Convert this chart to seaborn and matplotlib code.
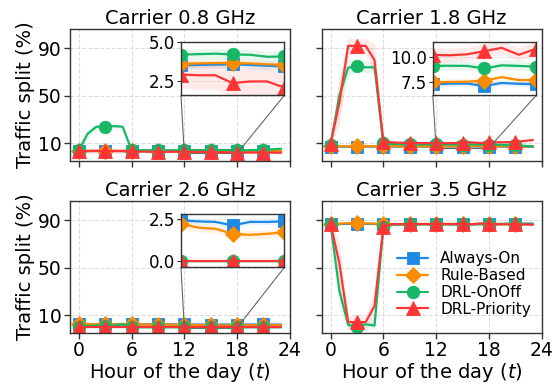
import numpy as np
import pandas as pd
import matplotlib
matplotlib.use("Agg")
import matplotlib.pyplot as plt
import seaborn as sns
from mpl_toolkits.axes_grid1.inset_locator import mark_inset

# ---------------- data ----------------
hours = list(range(24))
schemes = ["Always-On", "Rule-Based", "DRL-OnOff", "DRL-Priority"]
carriers = ["Carrier 0.8 GHz", "Carrier 1.8 GHz", "Carrier 2.6 GHz", "Carrier 3.5 GHz"]

# Carrier 0.8 GHz
ao_08 = [3.5,3.5,3.6,3.6,3.5,3.5,3.5,3.5,3.5,3.5,3.5,3.5,3.50,3.52,3.54,3.56,3.52,3.47,3.42,3.45,3.48,3.5,3.45,3.4]
rb_08 = [3.8,3.7,3.8,3.8,3.7,3.7,3.7,3.7,3.6,3.6,3.6,3.6,3.58,3.62,3.64,3.65,3.62,3.56,3.53,3.55,3.58,3.6,3.55,3.5]
on_08 = [4.0,18.0,24.0,24.0,24.5,24.0,4.5,4.3,4.2,4.2,4.2,4.2,4.19,4.22,4.25,4.20,4.18,4.05,4.07,4.2,4.4,4.6,5.0,5.5]
pr_08 = [3.4,3.5,3.6,3.6,3.6,3.5,3.3,3.1,3.0,2.9,2.9,2.9,2.90,2.85,2.85,2.34,2.45,2.45,2.05,2.2,2.3,2.3,2.2,2.1]
# Carrier 1.8 GHz
ao_18 = [7.3,7.3,7.2,7.2,7.3,7.3,7.3,7.3,7.3,7.3,7.3,7.3,7.28,7.36,7.36,7.12,7.42,7.33,7.30,7.3,7.2,7.1,7.0,7.0]
rb_18 = [7.6,7.6,7.5,7.6,7.6,7.6,7.6,7.6,7.5,7.5,7.5,7.5,7.50,7.52,7.55,7.66,7.99,7.70,7.70,7.6,7.5,7.4,7.3,7.3]
on_18 = [9.0,50.0,73.6,75.0,74.0,74.0,10.0,9.5,9.3,9.2,9.1,9.1,9.10,9.12,9.10,8.85,9.16,9.10,9.03,8.9,8.6,8.3,8.0,7.5]
pr_18 = [9.5,44.0,92.0,92.0,92.0,80.0,11.5,10.8,10.5,10.3,10.2,10.2,10.19,10.15,10.25,10.56,10.88,10.20,10.80,10.9,11.0,11.2,12.0,12.8]
# Carrier 2.6 GHz
ao_26 = [2.6,2.6,2.6,2.6,2.6,2.5,2.5,2.5,2.5,2.5,2.5,2.45,2.44,2.37,2.34,2.13,2.34,2.34,2.37,2.4,2.4,2.4,2.4,2.4]
rb_26 = [3.0,2.8,2.6,2.5,2.5,2.4,2.4,2.3,2.3,2.3,2.3,2.25,2.24,2.00,1.93,1.63,1.57,1.63,1.73,1.75,1.8,1.8,1.8,1.8]
on_26 = [0.0,1.0,1.5,1.5,1.5,2.5,0.5,0.0,0.0,0.0,0.0,0.0,0.0,0.0,0.0,0.0,0.0,0.0,0.0,0.0,0.0,0.0,0.0,0.0]
pr_26 = [0.0,0.0,0.0,0.0,0.0,0.0,0.0,0.0,0.0,0.0,0.0,0.0,0.0,0.0,0.0,0.0,0.0,0.0,0.0,0.0,0.0,0.0,0.0,0.0]
# Carrier 3.5 GHz
ao_35 = [86.8,86.9,87.0,87.1,87.0,86.9,86.9,86.9,86.9,86.9,86.9,86.9,86.8,86.8,86.8,87.2,86.7,86.9,86.9,86.9,87.0,87.1,87.2,87.2]
rb_35 = [86.9,87.3,87.6,87.8,87.5,87.3,87.0,86.9,86.9,86.9,86.9,86.9,86.7,86.9,86.9,87.1,86.8,87.1,87.0,86.9,86.9,86.9,86.9,86.9]
on_35 = [87.0,31.0,2.0,0.3,2.5,1.5,84.0,86.3,86.5,86.6,86.7,86.7,86.7,86.7,86.7,86.9,86.7,86.8,86.9,86.9,87.0,87.1,87.0,87.0]
pr_35 = [87.1,54.0,4.4,4.4,4.4,18.0,84.5,86.8,86.8,86.9,86.9,86.9,86.9,87.0,86.9,87.1,86.7,87.3,87.1,86.7,86.7,86.5,86.6,86.3]

# half-widths of the shaded confidence bands
sd_ao_08 = [0.3,0.3,0.3,0.3,0.3,0.3,0.3,0.3,0.3,0.3,0.3,0.3,0.25,0.25,0.25,0.25,0.25,0.25,0.25,0.25,0.25,0.25,0.25,0.25]
sd_rb_08 = [0.3,0.3,0.3,0.3,0.3,0.3,0.3,0.3,0.3,0.3,0.3,0.3,0.25,0.25,0.25,0.25,0.25,0.25,0.25,0.25,0.25,0.25,0.25,0.25]
sd_on_08 = [0.5,4.0,2.0,1.5,1.5,1.5,0.8,0.4,0.4,0.4,0.4,0.4,0.35,0.35,0.35,0.35,0.35,0.35,0.35,0.35,0.4,0.4,0.5,0.5]
sd_pr_08 = [2.0,2.2,2.4,2.4,2.4,2.2,1.5,1.0,1.0,0.9,0.9,0.9,0.9,0.9,0.9,0.9,0.9,0.9,0.9,0.9,0.9,0.9,0.9,0.9]
sd_ao_18 = [0.3,0.3,0.3,0.3,0.3,0.3,0.3,0.3,0.3,0.3,0.3,0.3,0.25,0.25,0.25,0.25,0.25,0.25,0.25,0.25,0.25,0.25,0.25,0.25]
sd_rb_18 = [0.3,0.3,0.3,0.3,0.3,0.3,0.3,0.3,0.3,0.3,0.3,0.3,0.3,0.3,0.3,0.3,0.3,0.3,0.3,0.3,0.3,0.3,0.3,0.3]
sd_on_18 = [1.0,18.0,8.0,4.0,5.0,5.0,1.5,0.5,0.5,0.5,0.5,0.5,0.45,0.45,0.45,0.45,0.45,0.45,0.45,0.45,0.5,0.5,0.5,0.5]
sd_pr_18 = [1.0,20.0,8.0,6.0,6.0,14.0,2.0,0.7,0.7,0.7,0.7,0.7,0.65,0.65,0.65,0.65,0.65,0.65,0.65,0.65,0.7,0.7,0.7,0.7]
sd_ao_26 = [0.2,0.2,0.2,0.2,0.2,0.2,0.2,0.2,0.2,0.2,0.2,0.2,0.15,0.15,0.15,0.15,0.15,0.15,0.15,0.15,0.15,0.15,0.15,0.15]
sd_rb_26 = [0.3,0.3,0.3,0.3,0.3,0.3,0.3,0.3,0.3,0.3,0.3,0.3,0.25,0.25,0.25,0.25,0.25,0.25,0.25,0.25,0.25,0.25,0.25,0.25]
sd_on_26 = [0.0,1.5,2.0,2.0,2.0,3.0,1.0,0.0,0.0,0.0,0.0,0.0,0.0,0.0,0.0,0.0,0.0,0.0,0.0,0.0,0.0,0.0,0.0,0.0]
sd_pr_26 = [0.0,0.0,0.0,0.0,0.0,0.0,0.0,0.0,0.0,0.0,0.0,0.0,0.0,0.0,0.0,0.0,0.0,0.0,0.0,0.0,0.0,0.0,0.0,0.0]
sd_ao_35 = [0.5,0.5,0.5,0.5,0.5,0.5,0.5,0.5,0.5,0.5,0.5,0.5,0.5,0.5,0.5,0.5,0.5,0.5,0.5,0.5,0.5,0.5,0.5,0.5]
sd_rb_35 = [0.5,0.5,0.5,0.5,0.5,0.5,0.5,0.5,0.5,0.5,0.5,0.5,0.5,0.5,0.5,0.5,0.5,0.5,0.5,0.5,0.5,0.5,0.5,0.5]
sd_on_35 = [1.0,12.0,3.0,2.0,3.0,3.0,3.0,1.0,1.0,1.0,1.0,1.0,1.0,1.0,1.0,1.0,1.0,1.0,1.0,1.0,1.0,1.0,1.0,1.0]
sd_pr_35 = [1.0,18.0,5.0,5.0,5.0,14.0,3.0,1.0,1.0,1.0,1.0,1.0,1.0,1.0,1.0,1.0,1.0,1.0,1.0,1.0,1.0,1.0,1.0,1.0]

means = [[ao_08, rb_08, on_08, pr_08], [ao_18, rb_18, on_18, pr_18],
         [ao_26, rb_26, on_26, pr_26], [ao_35, rb_35, on_35, pr_35]]
spreads = [[sd_ao_08, sd_rb_08, sd_on_08, sd_pr_08], [sd_ao_18, sd_rb_18, sd_on_18, sd_pr_18],
           [sd_ao_26, sd_rb_26, sd_on_26, sd_pr_26], [sd_ao_35, sd_rb_35, sd_on_35, sd_pr_35]]

inset_ylims = [(1.55, 5.0), (6.2, 11.45), (-0.37, 2.8), None]
inset_yticks = [[2.5, 5.0], [7.5, 10.0], [0.0, 2.5], None]
ytick_vals = [10, 50, 90]
xtick_vals = [0, 6, 12, 18, 24]

# ---------------- style ----------------
colors = {"Always-On": "#1E88E5", "Rule-Based": "#FB8C00",
          "DRL-OnOff": "#16B865", "DRL-Priority": "#FF3535"}
markers = {"Always-On": "s", "Rule-Based": "D", "DRL-OnOff": "o", "DRL-Priority": "^"}
msize = {"Always-On": 8.5, "Rule-Based": 8.5, "DRL-OnOff": 9, "DRL-Priority": 9.5}

sns.set_style("ticks")
plt.rcParams["font.family"] = ["DejaVu Sans"]
plt.rcParams["axes.edgecolor"] = "#333333"
plt.rcParams["text.color"] = "black"
plt.rcParams["axes.labelcolor"] = "black"
plt.rcParams["xtick.color"] = "#333333"
plt.rcParams["ytick.color"] = "#333333"
plt.rcParams["xtick.labelcolor"] = "black"
plt.rcParams["ytick.labelcolor"] = "black"

fig, axes = plt.subplots(2, 2, figsize=(5.55, 3.9), dpi=100, sharex=True, sharey=True)
fig.subplots_adjust(left=0.126, right=0.976, top=0.925, bottom=0.147, wspace=0.145, hspace=0.31)


def draw(ax, m_list, s_list):
    for name, m, s in zip(schemes, m_list, s_list):
        df = pd.DataFrame({"hour": hours, "val": m})
        lo = np.array(m) - np.array(s)
        hi = np.array(m) + np.array(s)
        ax.fill_between(hours, lo, hi, color=colors[name], alpha=0.1, lw=0)
        sns.lineplot(data=df, x="hour", y="val", ax=ax, color=colors[name],
                     marker=markers[name], markersize=msize[name], markevery=3,
                     markeredgewidth=0.6, markeredgecolor=colors[name],
                     linewidth=1.6, errorbar=None, label=name, legend=False)


for i, ax in enumerate(axes.flat):
    draw(ax, means[i], spreads[i])
    ax.set_title(carriers[i], fontsize=14, pad=4)
    ax.set_xlim(-1, 24)
    ax.set_ylim(-4.5, 106)
    ax.set_xticks(xtick_vals)
    ax.set_yticks(ytick_vals)
    ax.tick_params(labelsize=13.5, length=4, width=1, pad=2)
    ax.grid(True, linestyle="--", color="#dddddd", linewidth=0.8)
    ax.set_xlabel("")
    ax.set_ylabel("")
    for sp in ax.spines.values():
        sp.set_linewidth(1.0)

    if inset_ylims[i] is not None:
        axins = ax.inset_axes([0.505, 0.497, 0.47, 0.405])
        draw(axins, means[i], spreads[i])
        axins.set_xlim(12, 18)
        axins.set_ylim(*inset_ylims[i])
        axins.set_yticks(inset_yticks[i])
        axins.set_xticks([12, 18])
        axins.set_xticklabels([])
        axins.tick_params(axis="x", length=0)
        axins.tick_params(axis="y", labelsize=12, length=3, pad=1)
        axins.grid(True, linestyle="--", color="#e6e6e6", linewidth=0.7)
        axins.set_xlabel("")
        axins.set_ylabel("")
        axins.set_facecolor("white")
        for sp in axins.spines.values():
            sp.set_linewidth(1.0)
            sp.set_edgecolor("#333333")
        mark_inset(ax, axins, loc1=3, loc2=4, fc="none", ec="0.4", lw=0.8)

for ax in axes[:, 0]:
    ax.set_ylabel("Traffic split (%)", fontsize=14, labelpad=2)
for ax in axes[1, :]:
    ax.set_xlabel("Hour of the day ($t$)", fontsize=14, labelpad=1)

ax4 = axes[1, 1]
handles = [l for l in ax4.get_lines() if l.get_label() in schemes]
ax4.legend(handles=handles, labels=schemes, loc="lower right", bbox_to_anchor=(1.0, 0.04),
           frameon=False, fontsize=11, handlelength=2.0, labelspacing=0.12,
           handletextpad=0.8, borderaxespad=0.3)

fig.savefig("out.png", dpi=100)
